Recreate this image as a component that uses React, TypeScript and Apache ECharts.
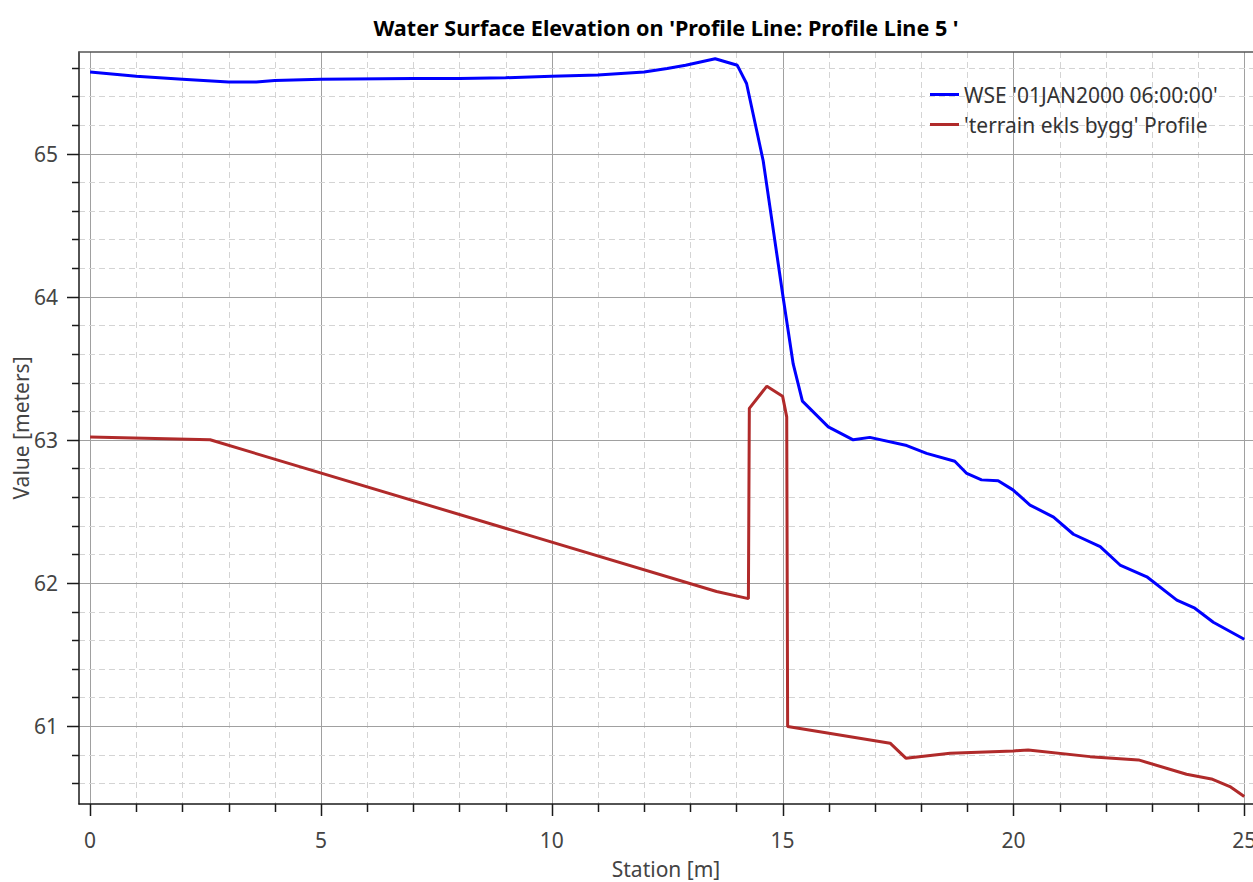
import React, { useEffect, useRef } from 'react';
import * as echarts from 'echarts';

const TITLE = "Water Surface Elevation on 'Profile Line: Profile Line 5 '";
const X_NAME = 'Station [m]';
const Y_NAME = 'Value [meters]';
const WSE_NAME = "WSE '01JAN2000 06:00:00'";
const TERRAIN_NAME = "'terrain ekls bygg' Profile";

const wseStation = [0, 1, 2, 3, 3.6, 4, 5, 7, 8, 9, 10, 11, 12, 12.5, 12.9, 13.54, 14.02, 14.22, 14.58, 15.01, 15.23, 15.43, 15.99, 16.53, 16.89, 17.69, 18.12, 18.73, 18.99, 19.31, 19.67, 19.99, 20.36, 20.87, 21.3, 21.88, 22.31, 22.89, 23.54, 23.93, 24.33, 25.0];
const wseValue = [65.57, 65.54, 65.52, 65.5, 65.5, 65.51, 65.52, 65.525, 65.525, 65.53, 65.54, 65.55, 65.57, 65.595, 65.617, 65.663, 65.617, 65.49, 64.95, 64.0, 63.53, 63.27, 63.09, 63.0, 63.017, 62.96, 62.905, 62.85, 62.765, 62.72, 62.714, 62.65, 62.544, 62.46, 62.34, 62.253, 62.125, 62.043, 61.88, 61.823, 61.725, 61.606];

const terrainStation = [0, 2.6, 13.57, 14.26, 14.28, 14.66, 15.0, 15.09, 15.11, 17.33, 17.67, 18.63, 20.0, 20.32, 21.66, 22.71, 23.75, 24.29, 24.69, 25.0];
const terrainValue = [63.02, 63.0, 61.94, 61.89, 63.22, 63.375, 63.305, 63.16, 60.996, 60.88, 60.775, 60.81, 60.826, 60.833, 60.786, 60.763, 60.663, 60.63, 60.577, 60.507];

const xTicks = [0, 1, 2, 3, 4, 5, 6, 7, 8, 9, 10, 11, 12, 13, 14, 15, 16, 17, 18, 19, 20, 21, 22, 23, 24, 25];
const xMajorTicks = [0, 5, 10, 15, 20, 25];
const yTicks = [60.6, 60.8, 61, 61.2, 61.4, 61.6, 61.8, 62, 62.2, 62.4, 62.6, 62.8, 63, 63.2, 63.4, 63.6, 63.8, 64, 64.2, 64.4, 64.6, 64.8, 65, 65.2, 65.4, 65.6];
const yMajorTicks = [61, 62, 63, 64, 65];

const X_MIN = -0.24;
const X_MAX = 25.19;
const Y_MIN = 60.455;
const Y_MAX = 65.71;

const FONT = 'Noto Sans';

function isInt(v: number) {
  return Math.abs(v - Math.round(v)) < 1e-6;
}

export default function App() {
  const ref = useRef<HTMLDivElement>(null);
  useEffect(() => {
    if (!ref.current) return;
    const chart = echarts.init(ref.current, undefined, { renderer: 'svg' });

    const xGridData = xTicks.map((v) => [v, xMajorTicks.includes(v) ? 1 : 0]);
    const yGridData = yTicks.map((v) => [v, yMajorTicks.some((m) => Math.abs(m - v) < 1e-6) ? 1 : 0]);

    const option: any = {
      animation: false,
      backgroundColor: '#ffffff',
      textStyle: { fontFamily: FONT },
      graphic: [
        {
          type: 'text',
          x: 666,
          y: 27,
          style: {
            text: TITLE,
            font: `bold 21.6px "${FONT}"`,
            fill: '#000',
            align: 'center',
            verticalAlign: 'middle',
          },
        },
      ],
      legend: {
        orient: 'vertical',
        left: 925,
        top: 79,
        icon: 'rect',
        itemWidth: 29,
        itemHeight: 3,
        itemGap: 9,
        data: [WSE_NAME, TERRAIN_NAME],
        textStyle: { fontSize: 21, color: '#333', fontFamily: FONT },
      },
      grid: { left: 79, right: 0, top: 52, bottom: 78, containLabel: false, outerBoundsMode: 'none' },
      xAxis: [
        {
          type: 'value',
          min: X_MIN,
          max: X_MAX,
          name: X_NAME,
          nameLocation: 'middle',
          nameGap: 54,
          nameMoveOverlap: false,
          nameTextStyle: { fontSize: 21, color: '#444', fontFamily: FONT },
          axisLine: { show: true, onZero: false, lineStyle: { color: '#1a1a1a', width: 1.5 } },
          axisTick: { show: false },
          splitLine: { show: false },
          axisLabel: {
            margin: 25,
            fontSize: 21,
            color: '#444',
            fontFamily: FONT,
            formatter: (v: number) => (isInt(v) ? String(Math.round(v)) : ''),
          },
        },
        {
          type: 'value',
          position: 'top',
          min: X_MIN,
          max: X_MAX,
          axisLine: { show: true, onZero: false, lineStyle: { color: '#555', width: 1.5 } },
          axisTick: { show: false },
          splitLine: { show: false },
          axisLabel: { show: false },
        },
      ],
      yAxis: {
        type: 'value',
        min: Y_MIN,
        max: Y_MAX,
        name: Y_NAME,
        nameLocation: 'middle',
        nameGap: 48,
        nameMoveOverlap: false,
        nameTextStyle: { fontSize: 21, color: '#444', fontFamily: FONT },
        axisLine: { show: true, onZero: false, lineStyle: { color: '#1a1a1a', width: 1.5 } },
        axisTick: { show: false },
        splitLine: { show: false },
        axisLabel: {
          margin: 21,
          fontSize: 21,
          color: '#444',
          fontFamily: FONT,
          formatter: (v: number) => (isInt(v) ? String(Math.round(v)) : ''),
        },
      },
      series: [
        {
          type: 'custom',
          name: 'xgrid',
          silent: true,
          clip: false,
          z: 0,
          data: xGridData,
          encode: { x: 0 },
          renderItem: (params: any, api: any) => {
            const v = api.value(0);
            const major = api.value(1) === 1;
            const cs = params.coordSys;
            const px = Math.round(api.coord([v, Y_MIN])[0]) + 0.5;
            const bottom = cs.y + cs.height;
            return {
              type: 'group',
              children: [
                {
                  type: 'line',
                  shape: { x1: px, y1: cs.y, x2: px, y2: bottom },
                  style: major
                    ? { stroke: '#a0a0a0', lineWidth: 1 }
                    : { stroke: '#d4d4d4', lineWidth: 1, lineDash: [6, 4] },
                },
                {
                  type: 'line',
                  shape: { x1: px, y1: bottom, x2: px, y2: bottom + (major ? 12 : 8) },
                  style: { stroke: '#1a1a1a', lineWidth: 1.5 },
                },
              ],
            };
          },
        },
        {
          type: 'custom',
          name: 'ygrid',
          silent: true,
          clip: false,
          z: 0,
          data: yGridData,
          encode: { y: 0 },
          renderItem: (params: any, api: any) => {
            const v = api.value(0);
            const major = api.value(1) === 1;
            const cs = params.coordSys;
            const py = Math.round(api.coord([X_MIN, v])[1]) + 0.5;
            return {
              type: 'group',
              children: [
                {
                  type: 'line',
                  shape: { x1: cs.x, y1: py, x2: cs.x + cs.width, y2: py },
                  style: major
                    ? { stroke: '#a0a0a0', lineWidth: 1 }
                    : { stroke: '#d4d4d4', lineWidth: 1, lineDash: [6, 4] },
                },
                {
                  type: 'line',
                  shape: { x1: cs.x - (major ? 12 : 7), y1: py, x2: cs.x, y2: py },
                  style: { stroke: '#1a1a1a', lineWidth: 1.5 },
                },
              ],
            };
          },
        },
        {
          type: 'line',
          name: WSE_NAME,
          data: wseStation.map((x, i) => [x, wseValue[i]]),
          showSymbol: false,
          symbol: 'none',
          z: 3,
          color: '#0000ff',
          lineStyle: { color: '#0000ff', width: 3 },
        },
        {
          type: 'line',
          name: TERRAIN_NAME,
          data: terrainStation.map((x, i) => [x, terrainValue[i]]),
          showSymbol: false,
          symbol: 'none',
          z: 3,
          color: '#b02a2a',
          lineStyle: { color: '#b02a2a', width: 3 },
        },
      ],
    };
    chart.setOption(option);
    return () => chart.dispose();
  }, []);
  return (
    <div
      ref={ref}
      style={{ position: 'absolute', left: 0, top: 0, width: 1253, height: 882, background: '#fff' }}
    />
  );
}
